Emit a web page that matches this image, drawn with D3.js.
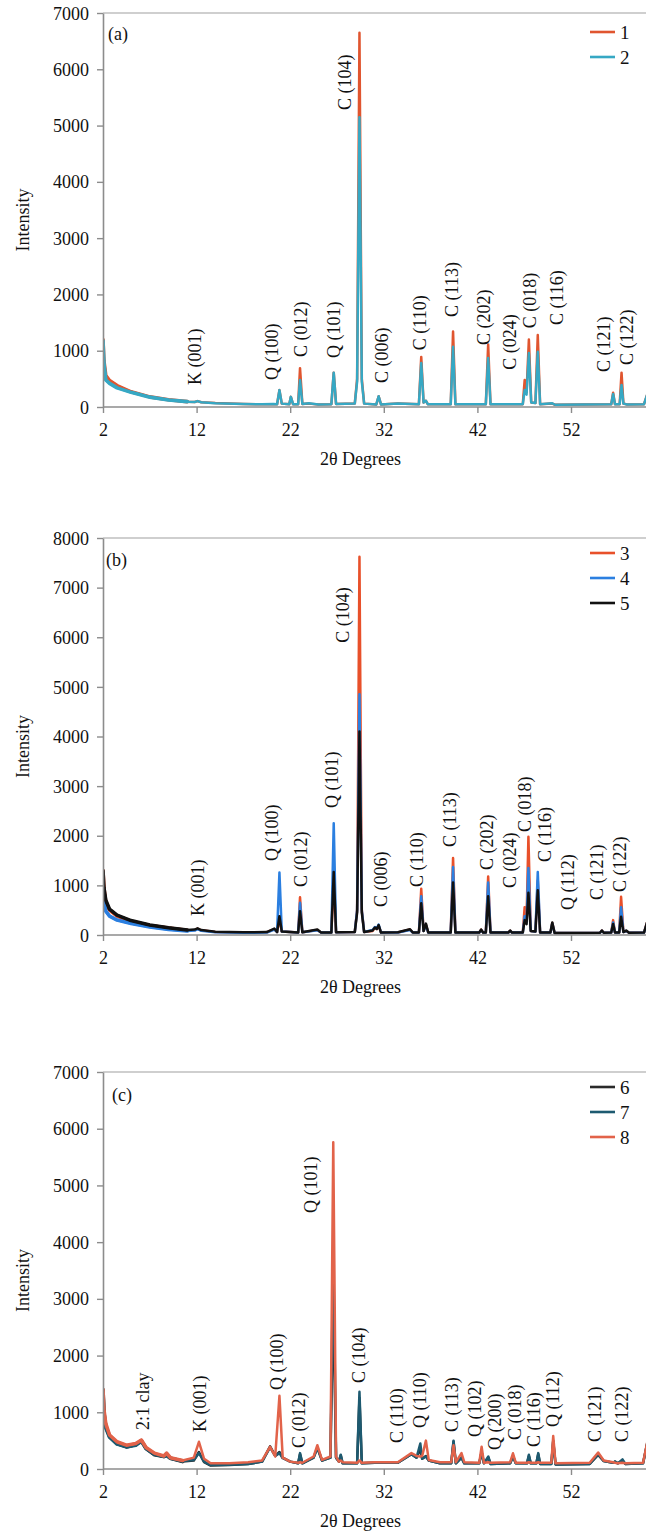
<!DOCTYPE html>
<html>
<head>
<meta charset="utf-8">
<script src="https://cdn.jsdelivr.net/npm/d3@7"></script>
</head>
<body style="margin:0;padding:0;background:#fff">
<svg id="chart" width="646" height="1535" style="display:block"></svg>
<script>
// ---------------- Panel (a) ----------------
const theta_a = [2.0,2.1,2.3,2.7,3.5,5.0,7.0,9.0,11.0,11.8,12.1,12.5,14.0,17.0,19.0,20.2,20.6,20.85,21.1,21.9,22.07,22.3,22.85,23.05,23.3,24.0,25.0,26.4,26.65,26.9,28.9,29.15,29.4,29.65,29.9,31.2,31.45,31.7,33.5,35.75,36.0,36.25,36.5,36.7,39.15,39.4,39.65,42.9,43.15,43.4,46.85,47.05,47.25,47.5,47.75,48.2,48.45,48.7,50.0,50.3,56.3,56.5,56.7,57.2,57.4,57.6,58.0,59.8,60.2];
const series1 = [1200,820,560,470,380,270,180,130,95,90,105,85,70,55,48,50,50,300,60,50,180,50,50,690,55,60,45,50,610,55,60,500,6650,500,60,45,190,45,60,50,890,80,110,50,50,1340,50,50,1110,50,50,480,260,1200,80,70,1280,50,60,40,50,254,50,50,610,60,45,50,250];
const series2 = [1180,780,480,420,340,260,175,125,95,90,105,85,68,55,48,55,50,300,60,50,180,50,50,480,55,65,45,50,610,55,60,450,5150,450,60,45,190,45,60,50,780,80,110,50,50,1070,50,50,870,50,50,300,220,960,80,70,980,50,65,40,50,230,50,50,390,60,45,50,250];
const labels_a = ["K (001)","Q (100)","C (012)","Q (101)","C (104)","C (006)","C (110)","C (113)","C (202)","C (024)","C (018)","C (116)","C (121)","C (122)"];
const labelTheta_a = [11.83,20.06,23.15,26.68,27.85,31.81,35.87,39.29,42.71,45.48,47.62,50.5,55.53,57.98];
const labelI_a = [390,480,890,870,5275,425,1010,1600,1100,660,1400,1455,620,745];

// ---------------- Panel (b) ----------------
const theta_b = [2.0,2.1,2.3,2.7,3.5,5.0,7.0,9.0,11.0,11.8,12.1,12.5,14.0,17.0,19.5,20.3,20.6,20.85,21.1,22.85,23.05,23.3,24.9,25.3,26.4,26.65,26.9,28.9,29.15,29.4,29.65,29.9,30.8,31.05,31.25,31.45,31.7,33.5,34.8,35.1,35.75,36.0,36.25,36.5,36.75,39.15,39.4,39.65,42.2,42.4,42.6,42.9,43.15,43.4,45.3,45.5,45.7,46.85,47.05,47.25,47.45,47.7,48.2,48.45,48.7,49.8,50.0,50.25,55.1,55.3,55.5,56.3,56.5,56.7,57.15,57.35,57.6,57.9,58.2,59.8,60.2];
const series3 = [1300,950,650,500,380,270,190,140,95,100,130,95,60,50,55,120,60,320,70,50,760,55,100,50,50,1100,55,60,500,7620,500,60,80,150,120,190,50,50,110,50,50,930,80,210,50,50,1550,50,50,110,50,50,1180,50,50,85,50,50,560,300,1980,80,70,1100,50,50,240,40,45,90,45,50,300,50,50,770,60,80,45,50,300];
const series4 = [1000,700,480,380,300,230,160,110,80,90,120,85,55,45,50,110,60,1260,70,50,650,55,95,50,50,2250,55,60,500,4850,500,60,100,160,130,210,50,50,100,50,50,780,80,200,50,50,1370,50,50,100,50,50,1060,50,50,80,50,50,380,250,1350,80,70,1270,50,50,230,40,45,85,45,50,250,50,50,560,60,80,45,50,280];
const series5 = [1300,950,700,520,400,290,200,145,100,110,135,100,65,55,60,130,60,380,70,50,480,55,110,50,50,1270,55,60,450,4100,450,60,90,150,120,200,50,55,115,50,50,640,80,230,50,50,1060,50,50,110,50,50,780,50,50,90,50,50,300,220,850,80,70,900,50,50,250,40,45,90,45,50,220,50,50,370,60,90,45,50,300];
const labels_b = ["K (001)","Q (100)","C (012)","Q (101)","C (104)","C (006)","C (110)","C (113)","C (202)","C (024)","C (018)","C (116)","Q (112)","C (121)","C (122)"];
const labelTheta_b = [12.15,20.06,23.15,26.47,27.64,31.7,35.55,39.07,43.03,45.48,47.09,49.22,51.68,54.78,57.24];
const labelI_b = [383,1492,968,2560,5887,565,968,1774,1310,948,2077,1472,504,706,867];

// ---------------- Panel (c) ----------------
const theta_c = [2.0,2.1,2.3,2.7,3.5,4.5,5.5,6.1,6.6,7.5,8.5,8.8,9.2,10.5,11.7,12.25,12.8,13.5,15.5,17.5,19.0,19.85,20.4,20.85,21.2,22.0,22.85,23.05,23.3,24.5,24.9,25.4,26.3,26.6,26.9,27.2,27.4,27.6,29.15,29.4,29.65,31.0,33.5,34.95,35.5,35.9,36.1,36.5,36.8,38.0,39.2,39.45,39.7,40.3,40.6,42.2,42.45,42.7,43.17,43.4,45.5,45.8,46.1,47.3,47.5,47.7,48.3,48.5,48.7,49.9,50.1,50.35,54.0,54.9,55.5,56.5,56.7,57.0,57.5,57.8,59.7,60.2];
const series6 = [1400,1000,750,580,450,390,430,500,360,250,220,240,190,130,150,300,120,60,70,90,130,400,230,300,200,130,100,260,100,200,380,150,200,3000,200,130,240,100,100,1250,100,110,110,260,200,350,180,230,150,100,100,480,100,200,100,100,300,100,200,90,100,220,100,100,230,100,100,260,90,90,500,80,90,250,140,110,130,100,150,90,100,500];
const series7 = [1350,950,720,560,440,390,420,490,360,260,220,240,190,140,160,280,130,70,75,90,130,380,230,280,190,130,100,280,100,200,370,150,200,3800,200,130,250,100,100,1360,100,110,110,260,200,450,180,220,150,100,100,500,100,200,100,100,300,100,220,90,100,230,100,100,250,100,100,280,90,90,480,80,90,260,140,110,130,100,170,90,100,500];
const series8 = [1400,1050,800,600,480,420,450,510,380,280,230,280,200,150,200,480,180,100,100,120,150,390,220,1290,200,130,110,120,110,220,420,160,220,5760,220,130,150,120,110,150,110,120,120,280,230,220,230,500,160,120,120,420,120,280,120,110,394,110,120,110,120,277,110,110,120,110,110,120,110,110,580,100,110,290,150,120,110,100,110,100,110,520];
const labels_c = ["2:1 clay","K (001)","Q (100)","C (012)","Q (101)","C (104)","C (110)","Q (110)","C (113)","Q (102)","Q (200)","C (018)","C (116)","Q (112)","C (121)","C (122)"];
const labelTheta_c = [6.27,12.36,20.59,22.94,24.22,29.35,33.41,35.87,39.29,41.74,43.88,46.02,48.05,50.08,54.56,57.45];
const labelI_c = [688,653,1393,370,4515,1517,459,723,653,564,335,511,388,741,476,476];

// ---------------- Axes ticks ----------------
const xTicks = [2,12,22,32,42,52];
const yTicks_a = [0,1000,2000,3000,4000,5000,6000,7000];
const yTicks_b = [0,1000,2000,3000,4000,5000,6000,7000,8000];
const yTicks_c = [0,1000,2000,3000,4000,5000,6000,7000];

// ---------------- Drawing ----------------
const FONT = '"Liberation Serif"';
const svg = d3.select("#chart");
const W = 646;
const x = d3.scaleLinear().domain([2, 62]).range([103, 664.6]);

function txt(sel, size) {
  return sel.style("font-family", FONT).style("font-size", size + "px").style("fill", "#111");
}

const panels = [
  { tag: "(a)", top: 13, bottom: 407, ymax: 7000, yTicks: yTicks_a,
    theta: theta_a,
    series: [{name:"1", values: series1, color:"#e0552f"}, {name:"2", values: series2, color:"#36a8c4"}],
    labels: labels_a, lt: labelTheta_a, li: labelI_a, tagY: 40, tagX: 108, legendY: 32 },
  { tag: "(b)", top: 538, bottom: 935, ymax: 8000, yTicks: yTicks_b,
    theta: theta_b,
    series: [{name:"3", values: series3, color:"#e8502a"}, {name:"4", values: series4, color:"#2b7fe0"}, {name:"5", values: series5, color:"#111111"}],
    labels: labels_b, lt: labelTheta_b, li: labelI_b, tagY: 566, tagX: 106, legendY: 553 },
  { tag: "(c)", top: 1072, bottom: 1469, ymax: 7000, yTicks: yTicks_c,
    theta: theta_c,
    series: [{name:"6", values: series6, color:"#2a2a2a"}, {name:"7", values: series7, color:"#1d5a70"}, {name:"8", values: series8, color:"#e2634a"}],
    labels: labels_c, lt: labelTheta_c, li: labelI_c, tagY: 1101, tagX: 112, legendY: 1087 }
];

panels.forEach((p, pi) => {
  const y = d3.scaleLinear().domain([0, p.ymax]).range([p.bottom, p.top]);
  const g = svg.append("g");

  // top frame line
  g.append("line").attr("x1", 103).attr("x2", W).attr("y1", p.top).attr("y2", p.top)
    .attr("stroke", "#cfcfcf").attr("stroke-width", 2);

  // clip
  const cid = "clip" + pi;
  svg.append("clipPath").attr("id", cid).append("rect")
    .attr("x", 103).attr("y", p.top - 2).attr("width", W - 103).attr("height", p.bottom - p.top + 2);

  // series lines (noisy low-angle region rendered as a thicker band)
  const line = d3.line().x((d, i) => x(p.theta[i])).y(d => y(d));
  const lineLow = d3.line().defined((d, i) => p.theta[i] <= 11).x((d, i) => x(p.theta[i])).y(d => y(d));
  const lg = g.append("g").attr("clip-path", `url(#${cid})`);
  p.series.forEach(s => {
    lg.append("path").datum(s.values).attr("d", lineLow)
      .attr("fill", "none").attr("stroke", s.color).attr("stroke-width", 3.6)
      .attr("stroke-linejoin", "round").attr("stroke-linecap", "round");
    lg.append("path").datum(s.values).attr("d", line)
      .attr("fill", "none").attr("stroke", s.color).attr("stroke-width", 2.5)
      .attr("stroke-linejoin", "round");
  });

  // axes
  const ya = d3.axisLeft(y).tickValues(p.yTicks).tickFormat(d3.format("d"))
    .tickSize(6).tickSizeOuter(0).tickPadding(8);
  const yg = g.append("g").attr("transform", "translate(103,0)").call(ya);
  const xa = d3.axisBottom(x).tickValues(xTicks).tickFormat(d3.format("d"))
    .tickSize(6).tickSizeOuter(0).tickPadding(10);
  const xg = g.append("g").attr("transform", `translate(0,${p.bottom})`).call(xa);
  [yg, xg].forEach(ax => {
    ax.select(".domain").attr("stroke", "#8c8c8c").attr("stroke-width", 1.6);
    ax.selectAll(".tick line").attr("stroke", "#8c8c8c").attr("stroke-width", 1.4);
    txt(ax.selectAll(".tick text"), 18);
  });
  yg.selectAll(".tick text").attr("dy", "0.34em");
  xg.select(".domain").attr("d", `M103,0H${W}`);

  // axis titles
  txt(g.append("text").attr("x", (x(2) + x(60)) / 2 - 14).attr("y", p.bottom + 58)
    .attr("text-anchor", "middle"), 18).text("2θ Degrees");
  const midY = (p.top + p.bottom) / 2 + 10;
  txt(g.append("text").attr("transform", `translate(29,${midY}) rotate(-90)`)
    .attr("text-anchor", "middle"), 18).text("Intensity");

  // panel tag
  txt(g.append("text").attr("x", p.tagX).attr("y", p.tagY), 18).text(p.tag);

  // legend
  p.series.forEach((s, i) => {
    const ly = p.legendY + i * 25;
    g.append("line").attr("x1", 590).attr("x2", 615).attr("y1", ly).attr("y2", ly)
      .attr("stroke", s.color).attr("stroke-width", 2.6);
    txt(g.append("text").attr("x", 620).attr("y", ly + 7), 19).text(s.name);
  });

  // peak labels
  p.labels.forEach((t, i) => {
    txt(g.append("text")
      .attr("transform", `translate(${x(p.lt[i])},${y(p.li[i])}) rotate(-90)`)
      .attr("dominant-baseline", "central"), 18).text(t);
  });
});
</script>
</body>
</html>
